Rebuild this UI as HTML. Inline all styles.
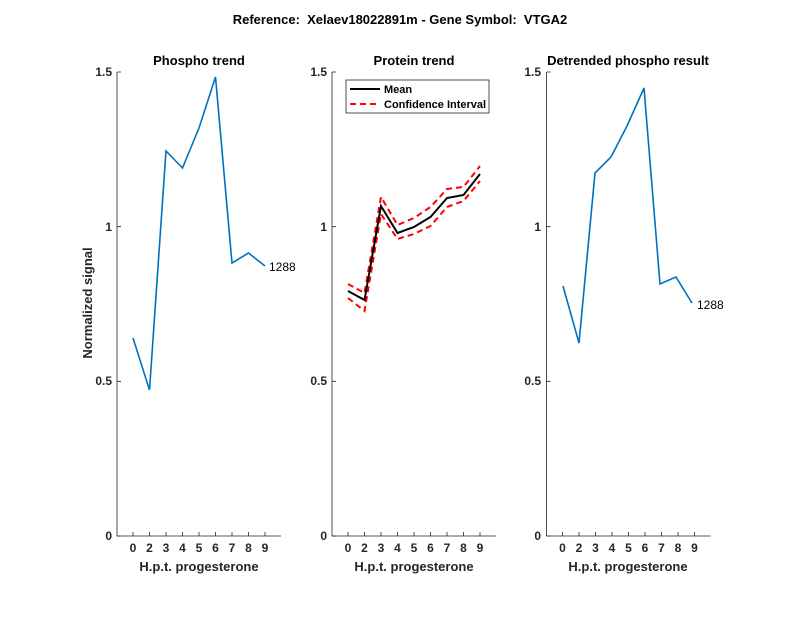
<!DOCTYPE html>
<html><head><meta charset="utf-8"><style>
body{margin:0;background:#fff}
svg{display:block;font-family:"Liberation Sans",sans-serif}
.t{font-weight:bold;font-size:13px}
.tk{font-weight:bold;font-size:12px;fill:#262626}
</style></head><body>
<svg width="800" height="618" viewBox="0 0 800 618">
<rect width="800" height="618" fill="#fff"/>
<text class="t" x="400" y="24" text-anchor="middle" style="white-space:pre">Reference:  Xelaev18022891m - Gene Symbol:  VTGA2</text>

<!-- Panel 1 -->
<g>
<text class="t" x="199" y="65" text-anchor="middle">Phospho trend</text>
<path d="M117,72V536H281" fill="none" stroke="#262626" stroke-width="0.8"/>
<path d="M117,72h4M117,226.7h4M117,381.3h4M117,536h4" stroke="#262626" stroke-width="0.8"/>
<g stroke="#262626" stroke-width="0.8">
<path d="M133,536v-4M149.5,536v-4M166,536v-4M182.5,536v-4M199,536v-4M215.5,536v-4M232,536v-4M248.5,536v-4M265,536v-4"/></g>
<g class="tk" text-anchor="end"><text x="112" y="76">1.5</text><text x="112" y="231">1</text><text x="112" y="385">0.5</text><text x="112" y="540">0</text></g>
<g class="tk" text-anchor="middle"><text x="133" y="552">0</text><text x="149.5" y="552">2</text><text x="166" y="552">3</text><text x="182.5" y="552">4</text><text x="199" y="552">5</text><text x="215.5" y="552">6</text><text x="232" y="552">7</text><text x="248.5" y="552">8</text><text x="265" y="552">9</text></g>
<text class="t" x="199" y="571" text-anchor="middle" fill="#262626">H.p.t. progesterone</text>
<text class="t" transform="translate(92,303) rotate(-90)" text-anchor="middle" fill="#262626">Normalized signal</text>
<polyline points="133,338 149.5,390 166,151 182.5,168 199,128 215.5,77 232,263 248.5,253 265,266" fill="none" stroke="#0072BD" stroke-width="1.6"/>
<text x="269" y="271" font-size="12">1288</text>
</g>

<!-- Panel 2 -->
<g>
<text class="t" x="414" y="65" text-anchor="middle">Protein trend</text>
<path d="M332,72V536H496" fill="none" stroke="#262626" stroke-width="0.8"/>
<path d="M332,72h4M332,226.7h4M332,381.3h4M332,536h4" stroke="#262626" stroke-width="0.8"/>
<g stroke="#262626" stroke-width="0.8">
<path d="M348,536v-4M364.5,536v-4M381,536v-4M397.5,536v-4M414,536v-4M430.5,536v-4M447,536v-4M463.5,536v-4M480,536v-4"/></g>
<g class="tk" text-anchor="end"><text x="327" y="76">1.5</text><text x="327" y="231">1</text><text x="327" y="385">0.5</text><text x="327" y="540">0</text></g>
<g class="tk" text-anchor="middle"><text x="348" y="552">0</text><text x="364.5" y="552">2</text><text x="381" y="552">3</text><text x="397.5" y="552">4</text><text x="414" y="552">5</text><text x="430.5" y="552">6</text><text x="447" y="552">7</text><text x="463.5" y="552">8</text><text x="480" y="552">9</text></g>
<text class="t" x="414" y="571" text-anchor="middle" fill="#262626">H.p.t. progesterone</text>
<polyline points="348,284 364.5,293 381,197 397.5,225 414,218 430.5,207 447,189 463.5,187 480,166" fill="none" stroke="#f00" stroke-width="2" stroke-dasharray="6,4"/>
<polyline points="348,298 364.5,311 381,214 397.5,239 414,234 430.5,226 447,207 463.5,201 480,181" fill="none" stroke="#f00" stroke-width="2" stroke-dasharray="6,4"/>
<polyline points="348,291 364.5,300 381,206 397.5,233 414,227 430.5,217 447,198 463.5,195 480,174" fill="none" stroke="#000" stroke-width="2"/>
<rect x="346" y="80" width="143" height="33" fill="#fff" stroke="#262626" stroke-width="0.8"/>
<line x1="350" y1="89" x2="380" y2="89" stroke="#000" stroke-width="2"/>
<line x1="350" y1="104" x2="380" y2="104" stroke="#f00" stroke-width="2" stroke-dasharray="6,4"/>
<text x="384" y="93" font-size="11" font-weight="bold">Mean</text>
<text x="384" y="108" font-size="11" font-weight="bold">Confidence Interval</text>
</g>

<!-- Panel 3 -->
<g>
<text class="t" x="628" y="65" text-anchor="middle">Detrended phospho result</text>
<path d="M546.5,72V536H710.5" fill="none" stroke="#262626" stroke-width="0.8"/>
<path d="M546.5,72h4M546.5,226.7h4M546.5,381.3h4M546.5,536h4" stroke="#262626" stroke-width="0.8"/>
<g stroke="#262626" stroke-width="0.8">
<path d="M562.5,536v-4M579,536v-4M595.5,536v-4M612,536v-4M628.5,536v-4M645,536v-4M661.5,536v-4M678,536v-4M694.5,536v-4"/></g>
<g class="tk" text-anchor="end"><text x="541" y="76">1.5</text><text x="541" y="231">1</text><text x="541" y="385">0.5</text><text x="541" y="540">0</text></g>
<g class="tk" text-anchor="middle"><text x="562.5" y="552">0</text><text x="579" y="552">2</text><text x="595.5" y="552">3</text><text x="612" y="552">4</text><text x="628.5" y="552">5</text><text x="645" y="552">6</text><text x="661.5" y="552">7</text><text x="678" y="552">8</text><text x="694.5" y="552">9</text></g>
<text class="t" x="628" y="571" text-anchor="middle" fill="#262626">H.p.t. progesterone</text>
<polyline points="563,286 579,343 595,173 611,157 627,126 644,88 660,284 676,277 692,303" fill="none" stroke="#0072BD" stroke-width="1.6"/>
<text x="697" y="309" font-size="12">1288</text>
</g>
</svg>
</body></html>
